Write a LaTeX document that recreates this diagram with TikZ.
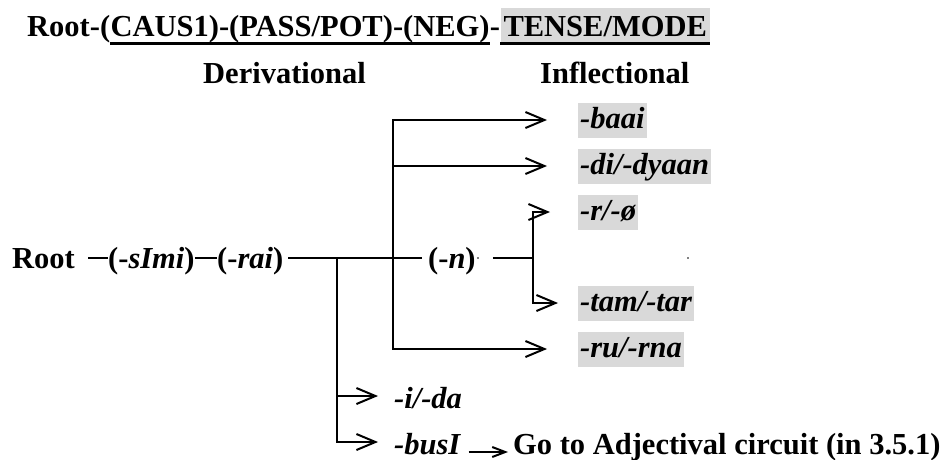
\documentclass[tikz,border=0pt]{standalone}
\usepackage{fontspec}
\setmainfont{Liberation Serif}
\usetikzlibrary{positioning, arrows.meta}
\tikzset{
x=1pt, y=-1pt, % one unit is one pixel, y runs downwards
every node/.style={inner sep=0pt, font=\fontsize{30.5}{36}\selectfont\bfseries}, % bold serif everywhere
head/.style={text height=26pt, text depth=5pt, inner ysep=2pt}, % pieces of the title line
word/.style={text height=26pt, text depth=6pt}, % morphemes on the main line
suffix/.style={text height=24.5pt, text depth=8.5pt, inner xsep=2pt, inner ysep=1pt, font=\fontsize{30.5}{36}\selectfont\bfseries\itshape}, % inflectional endings
shaded/.style={suffix, fill=gray!30}, % grey marked endings
plain/.style={suffix, text height=28pt, text depth=4pt}, % endings without shading
branch/.style={line width=2pt}, % the lines of the circuit
tip/.style={branch, -{Straight Barb[length=19pt, width=16pt]}}, % long open arrow heads
smalltip/.style={branch, -{Straight Barb[length=13pt, width=10pt]}}, % the short arrow to the text
uline/.style={line width=3pt}, % underlining in the title
}

\begin{document}
\begin{tikzpicture}
\useasboundingbox (0,0) rectangle (949,459);

% title
\node[head, anchor=base west] (lead) at (27,36) {Root-(};
\node[head, base right=0pt of lead] (caus) {CAUS1)-(PASS/POT)-(NEG)};
\node[head, base right=0pt of caus] (hyph) {-};
\node[head, fill=gray!30, inner xsep=3pt, base right=0pt of hyph] (tense) {TENSE/MODE};
\draw[uline] (caus.south west) -- (caus.south east);
\draw[uline] (tense.south west) -- (tense.south east);

\node[anchor=base west] (deriv) at (203,83) {Derivational};
\node[anchor=base west] (infl) at (540,83) {Inflectional};

% main line
\node[word, anchor=base west] (root) at (12,268) {Root};
\node[word, anchor=base west] (simi) at (108,268) {(-\textit{sImi})};
\node[word, anchor=base west] (rai) at (217,268) {(-\textit{rai})};
\node[word, anchor=base west] (n) at (428,268) {(-\textit{n})};
\coordinate (j1) at (337,258);
\coordinate (j2) at (393,258);
\coordinate (j3) at (533,258);

% endings
\node[shaded, anchor=west] (baai) at (578,120) {-baai};
\node[shaded, anchor=west] (di) at (578,166) {-di/-dyaan};
\node[shaded, anchor=west] (rphi) at (578,212) {-r/-ø};
\node[shaded, anchor=west] (tam) at (578,303) {-tam/-tar};
\node[shaded, anchor=west] (ru) at (578,349) {-ru/-rna};
\node[plain, anchor=west] (ida) at (392,396) {-i/-da};
\node[plain, anchor=west] (busi) at (392,442) {-busI};
\node[anchor=base west] (go) at (513,454) {Go to Adjectival circuit (in 3.5.1)};

\draw[branch, shorten <=13pt] (root) -- (simi);
\draw[branch] (simi) -- (rai);
\draw[branch, shorten <=5pt, shorten >=6pt] (rai) -- (n);
\draw[branch, shorten <=17pt] (n) -- (j3);

\draw[tip, shorten >=31pt] (j2) |- (baai);
\draw[tip, shorten >=31pt] (j2) |- (di);
\draw[tip, shorten >=31pt] (j2) |- (ru);
\draw[tip, shorten >=28pt] (j3) |- (rphi);
\draw[tip, shorten >=20pt] (j3) |- (tam);
\draw[tip, shorten >=14pt] (j1) |- (ida);
\draw[tip, shorten >=14pt] (j1) |- (busi);
\draw[smalltip] ([shift={(6,10)}]busi.east) -- ([shift={(-5,-2)}]go.base west);

\fill (478,258) circle (0.8);
\fill (688,258) circle (0.8);
\end{tikzpicture}
\end{document}
